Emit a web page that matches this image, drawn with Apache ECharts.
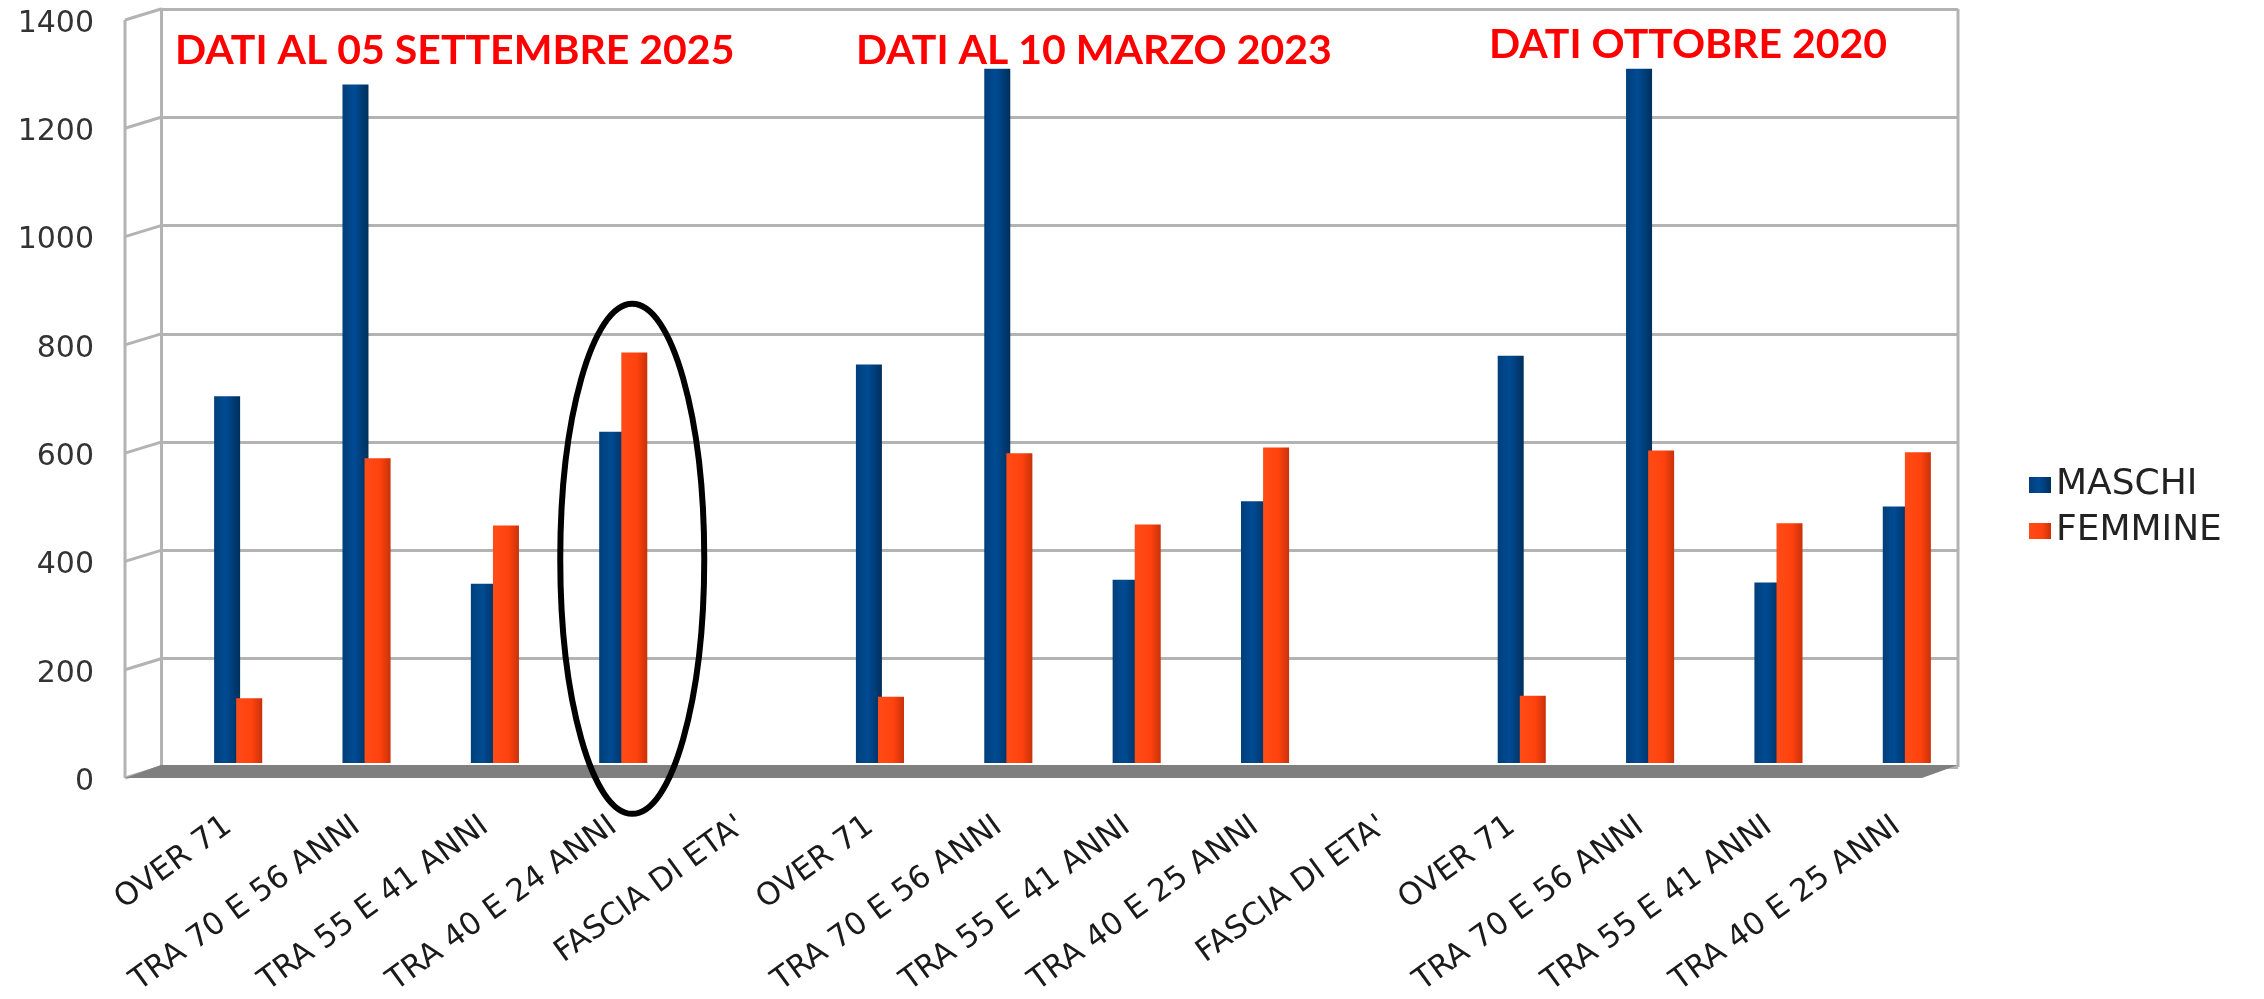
<!DOCTYPE html>
<html><head><meta charset="utf-8">
<script src="https://cdn.jsdelivr.net/npm/echarts@6/dist/echarts.min.js"></script>
<style>html,body{margin:0;padding:0;background:#fff}#c{width:2264px;height:999px}</style>
</head><body><div id="c"></div>
<script>
// ---- data ----
const categories = ["OVER 71","TRA 70 E 56 ANNI","TRA 55 E 41 ANNI","TRA 40 E 24 ANNI","FASCIA DI ETA'",
                    "OVER 71","TRA 70 E 56 ANNI","TRA 55 E 41 ANNI","TRA 40 E 25 ANNI","FASCIA DI ETA'",
                    "OVER 71","TRA 70 E 56 ANNI","TRA 55 E 41 ANNI","TRA 40 E 25 ANNI"];
const maschi  = [681,1260,333,615,null,740,1289,340,486,null,756,1289,335,476];
const femmine = [120,566,441,762,null,123,575,443,586,null,125,580,445,577];
const seriesNames = ["MASCHI","FEMMINE"];
const yTicks = [0,200,400,600,800,1000,1200,1400];
const periodTitles = ["DATI AL 05 SETTEMBRE 2025","DATI AL 10 MARZO 2023","DATI OTTOBRE 2020"];

const chart = echarts.init(document.getElementById('c'), null, {renderer:'canvas'});
const GRID_TOP = 9, GRID_BOTTOM = 232;
const gridColor = '#b3b3b3';

const blueGrad = new echarts.graphic.LinearGradient(0,0,1,0,[
  {offset:0,color:'#003f7a'},{offset:0.45,color:'#004b94'},{offset:1,color:'#002f5c'}]);
const orangeGrad = new echarts.graphic.LinearGradient(0,0,1,0,[
  {offset:0,color:'#ff4c16'},{offset:0.6,color:'#ff420e'},{offset:1,color:'#c8320a'}]);

const titleFont = {fontFamily:'Lato', fontWeight:'bold', fontSize:41, color:'#ff0000'};

const option = {
  animation:false,
  backgroundColor:'#ffffff',
  title: [
    {text: periodTitles[0], left:170, top:25, textStyle:titleFont},
    {text: periodTitles[1], left:851, top:25, textStyle:titleFont},
    {text: periodTitles[2], left:1484, top:19, textStyle:titleFont}
  ],
  legend: {
    data: seriesNames, orient:'vertical', left:2024, top:462,
    icon:'rect', itemWidth:22, itemHeight:16, itemGap:10,
    textStyle:{fontFamily:'DejaVu Sans', fontSize:36, color:'#222'}
  },
  grid: [
    {left:161, right:306, top:GRID_TOP, bottom:GRID_BOTTOM},
    {left:174, right:293, top:GRID_TOP, bottom:GRID_BOTTOM}
  ],
  xAxis: [
    {gridIndex:0, type:'value', min:0, max:1, show:false},
    {gridIndex:1, type:'category', data:categories,
     axisLine:{show:false}, axisTick:{show:false},
     axisLabel:{interval:0, rotate:36, margin:53, padding:[0,12,0,0],
                fontFamily:'DejaVu Sans', fontSize:31, color:'#1a1a1a'}}
  ],
  yAxis: [
    {gridIndex:0, type:'value', min:0, max:1400, interval:200,
     axisLine:{show:true, lineStyle:{color:gridColor, width:3}}, axisTick:{show:false},
     splitLine:{show:true, lineStyle:{color:gridColor, width:3}},
     axisLabel:{margin:67, fontFamily:'DejaVu Sans', fontSize:30, color:'#333',
                verticalAlign:'top', formatter: v => String(v)}},
    {gridIndex:1, type:'value', min:0, max:1400, interval:200, show:false, splitLine:{show:false}}
  ],
  series: [
    {name:seriesNames[0], type:'bar', xAxisIndex:1, yAxisIndex:1, data:maschi,
     barWidth:26, barGap:'-15%', itemStyle:{color:blueGrad}, z:3},
    {name:seriesNames[1], type:'bar', xAxisIndex:1, yAxisIndex:1, data:femmine,
     barWidth:26, itemStyle:{color:orangeGrad}, z:4}
  ],
  color:['#004586','#ff420e']
};
chart.setOption(option);

function decorate(){
  const p = (v, xr) => chart.convertToPixel({xAxisIndex:0, yAxisIndex:0}, [xr, v]);
  const dx = -36, dy = 11;
  const els = [];
  yTicks.forEach(v => {
    const [x,y] = p(v,0);
    els.push({type:'line', z:1, shape:{x1:x,y1:y,x2:x+dx,y2:y+dy}, style:{stroke:gridColor, lineWidth:3}});
  });
  const [xl, yt] = p(1400,0);
  const [, yb] = p(0,0);
  const [xr] = p(0,1);
  els.push({type:'line', z:1, shape:{x1:xl+dx,y1:yt+dy,x2:xl+dx,y2:yb+dy}, style:{stroke:gridColor, lineWidth:3}});
  els.push({type:'line', z:1, shape:{x1:xr,y1:yt,x2:xr,y2:yb}, style:{stroke:gridColor, lineWidth:3}});
  els.push({type:'polygon', z:1, shape:{points:[[xl,yb-2],[xr,yb-2],[xr-36,yb+11],[xl+dx,yb+11]]},
            style:{fill:'#7f7f7f'}});
  // ellipse around the 2025 "TRA 40 E 24 ANNI" pair
  const [cx] = chart.convertToPixel({xAxisIndex:1, yAxisIndex:1}, [3, 0]);
  const [, cy] = chart.convertToPixel({xAxisIndex:1, yAxisIndex:1}, [3, 379]);
  els.push({type:'ellipse', z:20, shape:{cx:cx+9, cy:cy, rx:72, ry:255},
            style:{fill:null, stroke:'#000', lineWidth:6}});
  chart.setOption({graphic:{elements:els}});
}
decorate();
</script>
</body></html>
